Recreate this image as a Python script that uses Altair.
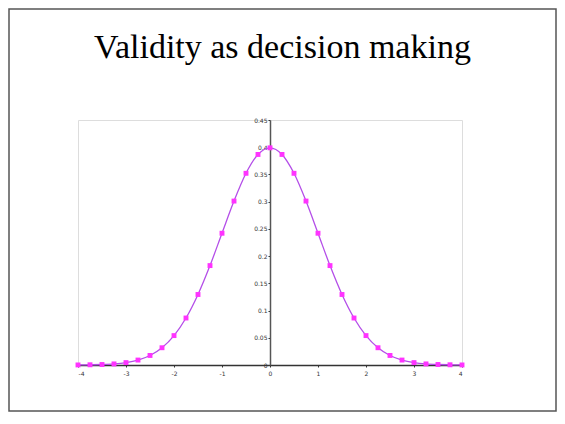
import altair as alt
import pandas as pd

# ---- data ----
x_vals = [-4.0, -3.75, -3.5, -3.25, -3.0, -2.75, -2.5, -2.25, -2.0, -1.75, -1.5, -1.25,
          -1.0, -0.75, -0.5, -0.25, 0.0, 0.25, 0.5, 0.75, 1.0, 1.25, 1.5, 1.75,
          2.0, 2.25, 2.5, 2.75, 3.0, 3.25, 3.5, 3.75, 4.0]
y_vals = [0.0001, 0.0004, 0.0009, 0.002, 0.0044, 0.0091, 0.0175, 0.0317, 0.054, 0.0863, 0.1295, 0.1826,
          0.242, 0.3011, 0.3521, 0.3867, 0.3989, 0.3867, 0.3521, 0.3011, 0.242, 0.1826, 0.1295, 0.0863,
          0.054, 0.0317, 0.0175, 0.0091, 0.0044, 0.002, 0.0009, 0.0004, 0.0001]
x_ticks = [-4, -3, -2, -1, 0, 1, 2, 3, 4]
y_ticks = [0, 0.05, 0.1, 0.15, 0.2, 0.25, 0.3, 0.35, 0.4, 0.45]
title_text = ["Validity as decision making"]

W, H = 384, 245
df = pd.DataFrame({"x": x_vals, "y": y_vals})

xs = alt.Scale(domain=[-4, 4], nice=False, zero=False)
ys = alt.Scale(domain=[0, 0.45], nice=False)

x_axis = alt.Axis(values=x_ticks, labelExpr="'' + datum.value", grid=False, title=None,
                  domainColor="#333333", domainWidth=1.5, tickColor="#333333", tickSize=2,
                  labelFontSize=6, labelFont="DejaVu Sans", labelColor="#333333", labelPadding=3,
                  labelOverlap=False)
y_axis = alt.Axis(values=y_ticks, labelExpr="'' + datum.value", grid=False, title=None,
                  offset=-W / 2, domainColor="#555555", domainWidth=1.5, tickColor="#333333",
                  tickSize=2, labelFontSize=6, labelFont="DejaVu Sans", labelColor="#333333",
                  labelPadding=1, labelOverlap=False, labelBound=False, labelFlush=False,
                  tickCount=10)

base = alt.Chart(df).encode(
    x=alt.X("x:Q", scale=xs, axis=x_axis),
    y=alt.Y("y:Q", scale=ys, axis=y_axis),
)
line = base.mark_line(color="#b44ee8", strokeWidth=1.3, interpolate="monotone")
pts = base.mark_point(shape="square", filled=True, size=24, color="#ff33ff", opacity=1)

title = alt.Chart(pd.DataFrame({"t": title_text})).mark_text(
    fontSize=34, font="Liberation Serif", align="center", baseline="alphabetic", color="#000000"
).encode(x=alt.value(204.5), y=alt.value(-62), text="t:N")

frame = alt.Chart(alt.Data(values=[{}])).mark_rect(
    fill="#ffffff", fillOpacity=0, stroke="#555555", strokeWidth=1.5
).encode(x=alt.value(-69), x2=alt.value(478), y=alt.value(-111), y2=alt.value(291))

chart = alt.layer(frame, title, line, pts).properties(
    width=W, height=H,
    padding={"left": 70, "top": 112, "right": 95, "bottom": 47},
    autosize=alt.AutoSizeParams(type="none"),
).configure_view(stroke="#999999", strokeWidth=1).configure(background="#ffffff")

chart.save("out.html", embed_options={"renderer": "svg", "actions": False})
